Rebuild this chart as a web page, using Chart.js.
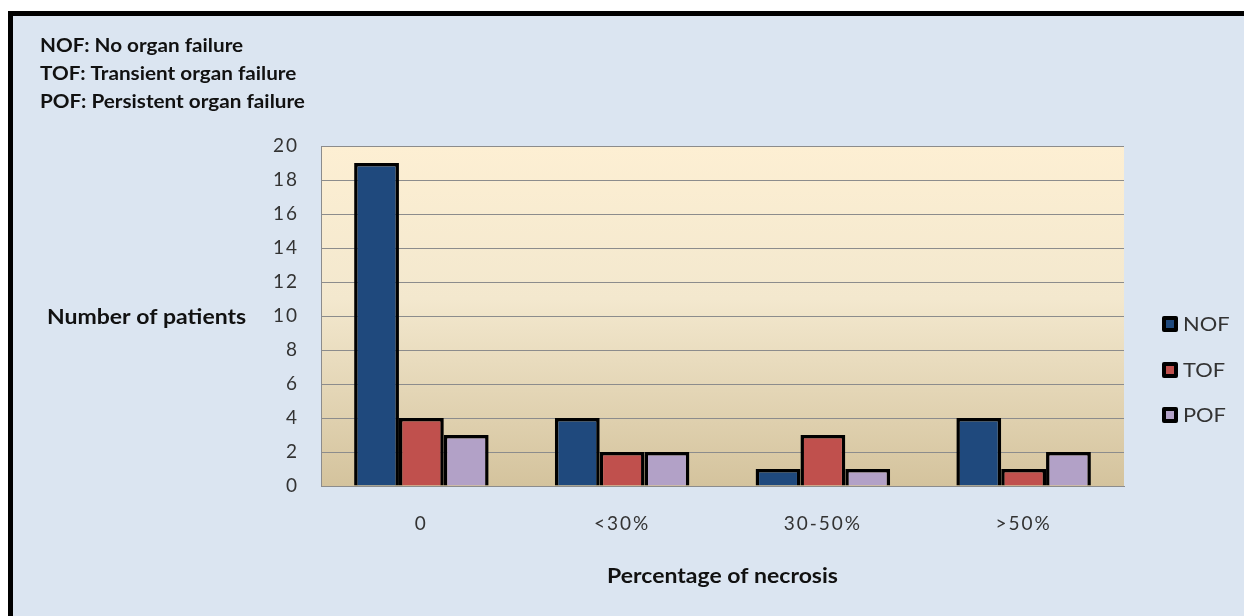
<!DOCTYPE html>
<html>
<head>
<meta charset="utf-8">
<script src="https://cdn.jsdelivr.net/npm/chart.js@4/dist/chart.umd.min.js"></script>
<style>
  html, body { margin:0; padding:0; background:#ffffff; }
  #wrap { position:relative; width:1244px; height:616px; overflow:hidden; }
  #frame { position:absolute; left:8px; top:11px; right:-10px; bottom:-10px;
           background:#DBE5F1; border-left:5px solid #000; border-top:5px solid #000; }
  #c { position:absolute; left:0; top:0; }
</style>
</head>
<body>
<div id="wrap">
  <div id="frame"></div>
  <canvas id="c" width="1244" height="616"></canvas>
</div>
<script>
const categories = ['0', '<30%', '30-50%', '>50%'];
const seriesNames = ['NOF', 'TOF', 'POF'];
const nofValues = [19, 4, 1, 4];
const tofValues = [4, 2, 3, 1];
const pofValues = [3, 2, 1, 2];
const yTicks = [0, 2, 4, 6, 8, 10, 12, 14, 16, 18, 20];
const noteLines = ['NOF: No organ failure', 'TOF: Transient organ failure', 'POF: Persistent organ failure'];
const yTitle = 'Number of patients';
const xTitle = 'Percentage of necrosis';

const colors = ['#1F497D', '#C0504D', '#B2A1C7'];
const FONT = 'Lato, "Open Sans", sans-serif';
const SX = 1.15;

function wideText(ctx, text, x, y, align) {
  ctx.save();
  ctx.translate(x, y);
  ctx.scale(SX, 1);
  ctx.textAlign = align || 'left';
  ctx.fillText(text, 0, 0);
  ctx.restore();
}

const bgPlugin = {
  id: 'bg',
  beforeDraw(chart) {
    const {ctx, chartArea: a} = chart;
    try { ctx.letterSpacing = '2px'; } catch (e) {}
    const g = ctx.createLinearGradient(0, a.top, 0, a.bottom);
    g.addColorStop(0, '#FDEFD3');
    g.addColorStop(0.45, '#F3E8CE');
    g.addColorStop(1, '#D4C39D');
    ctx.save();
    ctx.fillStyle = g;
    ctx.fillRect(a.left, a.top, a.right - a.left, a.bottom - a.top);
    ctx.restore();
  }
};

const textPlugin = {
  id: 'texts',
  afterDraw(chart) {
    const {ctx, chartArea: a} = chart;
    ctx.save();
    try { ctx.letterSpacing = '0px'; } catch (e) {}
    ctx.fillStyle = '#111';
    ctx.textBaseline = 'middle';
    ctx.font = 'bold 18px ' + FONT;
    noteLines.forEach((t, i) => wideText(ctx, t, 40, 46 + i * 28));
    ctx.font = 'bold 20px ' + FONT;
    wideText(ctx, yTitle, 47, 318);
    wideText(ctx, xTitle, (a.left + a.right) / 2, 577, 'center');
    // legend
    const ys = [324, 370, 415];
    chart.data.datasets.forEach((ds, i) => {
      const y = ys[i];
      ctx.fillStyle = '#000';
      ctx.beginPath();
      ctx.roundRect(1162, y - 8, 16, 16, 2);
      ctx.fill();
      ctx.fillStyle = ds.backgroundColor;
      ctx.fillRect(1166, y - 4, 8, 8);
      ctx.fillStyle = '#333';
      ctx.font = '19px ' + FONT;
      wideText(ctx, ds.label, 1183, y + 1);
    });
    ctx.restore();
  }
};

const datasets = [nofValues, tofValues, pofValues].map((vals, i) => ({
  label: seriesNames[i],
  data: vals,
  backgroundColor: colors[i],
  borderColor: '#000',
  borderWidth: 3.5,
  borderSkipped: 'bottom',
  categoryPercentage: 0.67,
  barPercentage: 1.0
}));

new Chart(document.getElementById('c'), {
  type: 'bar',
  data: { labels: categories, datasets },
  plugins: [bgPlugin, textPlugin],
  options: {
    responsive: false,
    animation: false,
    layout: { padding: { left: 0, top: 146, right: 120, bottom: 0 } },
    plugins: { legend: { display: false }, tooltip: { enabled: false } },
    scales: {
      x: {
        grid: { display: false, drawTicks: false },
        border: { display: true, color: '#8C8C8C', width: 1 },
        ticks: { color: '#333', font: { family: FONT, size: 19 }, padding: 26 },
        afterFit(s) { s.height = 130; }
      },
      y: {
        min: 0, max: 20,
        afterBuildTicks(s) { s.ticks = yTicks.map(v => ({ value: v })); },
        grid: { color: '#8C8C8C', lineWidth: 1, drawTicks: false },
        border: { display: true, color: '#8C8C8C', width: 1 },
        ticks: { color: '#333', font: { family: FONT, size: 19 }, padding: 22 },
        afterFit(s) { s.width = 321; }
      }
    }
  }
});
</script>
</body>
</html>
